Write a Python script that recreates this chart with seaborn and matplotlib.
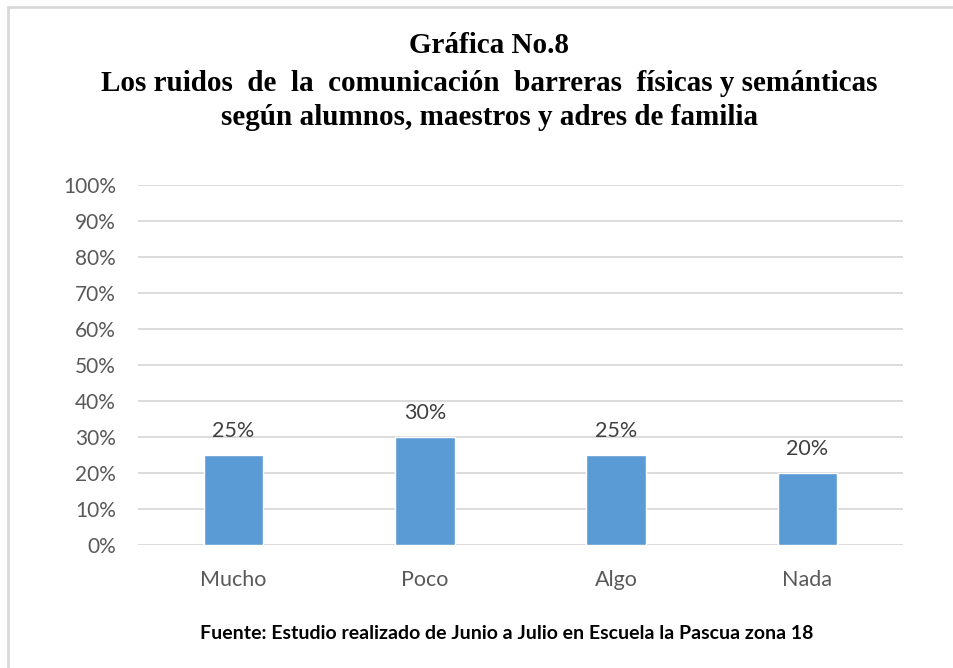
import matplotlib
matplotlib.use("Agg")
import matplotlib.pyplot as plt
import seaborn as sns
import pandas as pd
from matplotlib.patches import Rectangle
from matplotlib.ticker import PercentFormatter

# data
categorias = ["Mucho", "Poco", "Algo", "Nada"]
porcentajes = [25, 30, 25, 20]
ticks_y = [0, 10, 20, 30, 40, 50, 60, 70, 80, 90, 100]

df = pd.DataFrame({"categoria": categorias, "porcentaje": porcentajes})

sns.set_style("white")
plt.rcParams["font.family"] = ["Lato", "DejaVu Sans"]

fig = plt.figure(figsize=(9.54, 6.68), dpi=100)
ax = fig.add_axes([138 / 954, 1 - 545 / 668, 765 / 954, 360 / 668])

sns.barplot(data=df, x="categoria", y="porcentaje", color="#5b9bd5",
            saturation=1, width=0.31, ax=ax)

ax.set_ylim(0, 100)
ax.set_yticks(ticks_y)
ax.yaxis.set_major_formatter(PercentFormatter(decimals=0))
ax.grid(axis="y", color="#d9d9d9", linewidth=1.3)
ax.set_axisbelow(True)
for s in ax.spines.values():
    s.set_visible(False)
ax.tick_params(axis="y", length=0, labelsize=15, colors="#595959", pad=16)
ax.tick_params(axis="x", length=0, labelsize=15.5, colors="#595959", pad=18)
ax.set_xlabel("")
ax.set_ylabel("")

for c in ax.containers:
    ax.bar_label(c, labels=[f"{v}%" for v in porcentajes], padding=10,
                 fontsize=15.5, color="#404040")

titulo = dict(ha="center", va="center", family="Liberation Serif",
              weight="bold", fontsize=21, color="black")
fig.text(0.513, 0.932, "Gráfica No.8", **titulo)
fig.text(0.513, 0.875,
         "Los ruidos  de  la  comunicación  barreras  físicas y semánticas", **titulo)
fig.text(0.513, 0.824, "según alumnos, maestros y adres de familia", **titulo)

fig.text(0.531, 0.052,
         "Fuente: Estudio realizado de Junio a Julio en Escuela la Pascua zona 18",
         ha="center", va="center", weight="bold", fontsize=14, color="black")

# chart frame
fig.patches.append(Rectangle((8.5 / 954, -0.05), 1.0, 1 - 6.5 / 668 + 0.05,
                             transform=fig.transFigure, fill=False,
                             edgecolor="#d9d9d9", linewidth=2))

fig.savefig("out.png", dpi=100)
